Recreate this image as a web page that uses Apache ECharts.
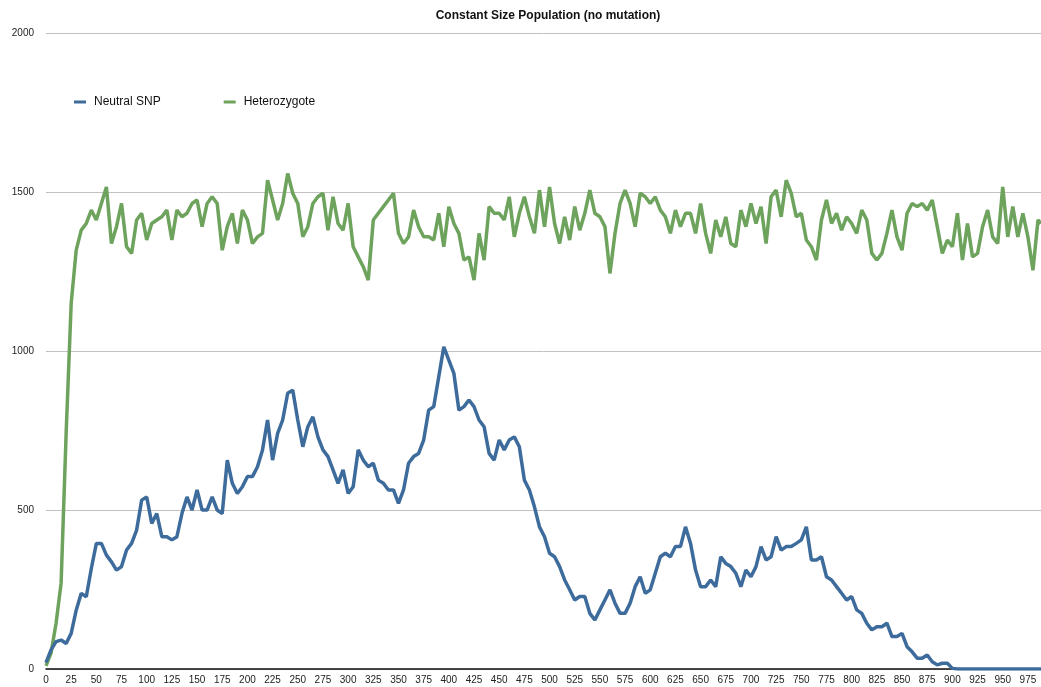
<!DOCTYPE html>
<html lang="en">
<head>
  <meta charset="UTF-8">
  <title>Constant Size Population</title>
  <style>
    * { padding: 0; margin: 0; }
    #charts { width: 1041px; height: 687px; background: #fff; }
  </style>
</head>
<body>
  <div id="charts"></div>
</body>
<script src="https://cdn.jsdelivr.net/npm/echarts@6/dist/echarts.min.js"></script>
<script>
  // generation of each sample (read every 5 generations)
  var generations = [
    0, 5, 10, 15, 20, 25, 30, 35, 40, 45, 50, 55, 60, 65, 70, 75, 80, 85, 90, 95,
    100, 105, 110, 115, 120, 125, 130, 135, 140, 145, 150, 155, 160, 165, 170, 175, 180, 185, 190, 195,
    200, 205, 210, 215, 220, 225, 230, 235, 240, 245, 250, 255, 260, 265, 270, 275, 280, 285, 290, 295,
    300, 305, 310, 315, 320, 325, 330, 335, 340, 345, 350, 355, 360, 365, 370, 375, 380, 385, 390, 395,
    400, 405, 410, 415, 420, 425, 430, 435, 440, 445, 450, 455, 460, 465, 470, 475, 480, 485, 490, 495,
    500, 505, 510, 515, 520, 525, 530, 535, 540, 545, 550, 555, 560, 565, 570, 575, 580, 585, 590, 595,
    600, 605, 610, 615, 620, 625, 630, 635, 640, 645, 650, 655, 660, 665, 670, 675, 680, 685, 690, 695,
    700, 705, 710, 715, 720, 725, 730, 735, 740, 745, 750, 755, 760, 765, 770, 775, 780, 785, 790, 795,
    800, 805, 810, 815, 820, 825, 830, 835, 840, 845, 850, 855, 860, 865, 870, 875, 880, 885, 890, 895,
    900, 905, 910, 915, 920, 925, 930, 935, 940, 945, 950, 955, 960, 965, 970, 975, 980, 985, 988
  ]
  var neutralSnp = [
    20, 60, 86, 91, 80, 112, 185, 238, 227, 316, 395, 395, 358, 337, 311, 322, 374, 395, 437, 531,
    541, 458, 489, 416, 416, 406, 416, 489, 541, 500, 563, 500, 500, 541, 500, 489, 657, 584, 552, 573,
    605, 605, 636, 689, 783, 657, 741, 783, 867, 877, 783, 699, 762, 793, 730, 689, 668, 626, 584, 626,
    552, 573, 689, 657, 636, 647, 594, 584, 563, 563, 521, 563, 647, 668, 678, 720, 814, 825, 919, 1013,
    971, 930, 814, 825, 846, 825, 783, 762, 678, 657, 720, 689, 720, 730, 699, 594, 563, 510, 447, 416,
    364, 353, 322, 280, 249, 217, 228, 228, 175, 154, 186, 217, 249, 207, 175, 175, 207, 259, 290, 238,
    249, 301, 353, 364, 353, 385, 385, 447, 395, 311, 259, 259, 280, 259, 353, 332, 322, 301, 259, 311,
    290, 322, 385, 343, 353, 416, 374, 385, 385, 395, 406, 447, 343, 343, 353, 290, 280, 259, 238, 217,
    228, 186, 175, 144, 123, 133, 133, 144, 102, 102, 112, 70, 54, 34, 34, 44, 23, 13, 18, 18,
    2, 0, 0, 0, 0, 0, 0, 0, 0, 0, 0, 0, 0, 0, 0, 0, 0, 0, 0
  ]
  var heterozygote = [
    10, 50, 144, 270, 741, 1150, 1317, 1380, 1401, 1443, 1412, 1464, 1516, 1338, 1391, 1464, 1328, 1307, 1412, 1433,
    1349, 1401, 1412, 1422, 1443, 1349, 1443, 1422, 1433, 1464, 1475, 1391, 1464, 1485, 1464, 1317, 1391, 1433, 1338, 1443,
    1412, 1338, 1359, 1370, 1537, 1475, 1412, 1464, 1558, 1496, 1464, 1359, 1391, 1464, 1485, 1496, 1380, 1485, 1401, 1380,
    1464, 1328, 1296, 1265, 1223, 1412, 1433, 1454, 1475, 1496, 1370, 1338, 1359, 1443, 1391, 1359, 1359, 1349, 1433, 1328,
    1454, 1401, 1370, 1286, 1296, 1223, 1370, 1286, 1454, 1433, 1433, 1412, 1485, 1359, 1433, 1485, 1422, 1370, 1506, 1391,
    1516, 1401, 1338, 1422, 1349, 1454, 1380, 1433, 1506, 1433, 1422, 1391, 1244, 1370, 1464, 1506, 1464, 1391, 1496, 1485,
    1464, 1485, 1443, 1422, 1370, 1443, 1391, 1433, 1433, 1370, 1464, 1370, 1307, 1412, 1359, 1422, 1338, 1328, 1443, 1391,
    1464, 1401, 1454, 1338, 1485, 1506, 1422, 1537, 1496, 1422, 1433, 1349, 1328, 1286, 1412, 1475, 1401, 1433, 1380, 1422,
    1401, 1370, 1443, 1412, 1307, 1286, 1307, 1370, 1443, 1359, 1317, 1433, 1464, 1454, 1464, 1443, 1475, 1391, 1307, 1349,
    1328, 1433, 1286, 1401, 1296, 1307, 1391, 1443, 1359, 1338, 1516, 1359, 1454, 1359, 1433, 1359, 1254, 1412, 1401
  ]
  var seriesNames = ['Neutral SNP', 'Heterozygote']

  function pairs(values) {
    return generations.map(function (g, i) { return [g, values[i]] })
  }

  var myChart = echarts.init(document.getElementById('charts'))
  var option = {
    animation: false,
    color: ['#3d6b9b', '#6ea35d'],
    textStyle: { fontFamily: 'Liberation Sans, Arial, sans-serif' },
    title: {
      text: 'Constant Size Population (no mutation)',
      left: 543,
      textAlign: 'center',
      top: 5,
      textStyle: { fontSize: 12, fontWeight: 'bold', color: '#111' }
    },
    legend: {
      data: seriesNames,
      left: 69,
      top: 91,
      icon: 'rect',
      itemWidth: 12,
      itemHeight: 3,
      itemGap: 63,
      textStyle: { fontSize: 12, color: '#111', padding: [0, 0, 0, 3] }
    },
    grid: { left: 46, right: 0, top: 33, bottom: 18 },
    xAxis: {
      type: 'value',
      min: 0,
      max: 988,
      interval: 25,
      axisLine: { lineStyle: { color: '#111', width: 1.5 } },
      axisTick: { show: false },
      splitLine: { show: false },
      axisLabel: { fontSize: 10, color: '#222', margin: 6, showMaxLabel: false }
    },
    yAxis: {
      type: 'value',
      min: 0,
      max: 2000,
      interval: 500,
      axisLine: { show: false },
      axisTick: { show: false },
      splitLine: { lineStyle: { color: '#c2c2c2', width: 1 } },
      axisLabel: {
        fontSize: 10, color: '#222', margin: 12,
        formatter: function (v) { return String(v) }
      }
    },
    series: [
      {
        name: seriesNames[0],
        type: 'line',
        symbol: 'none',
        z: 3,
        lineStyle: { width: 3.5 },
        data: pairs(neutralSnp)
      },
      {
        name: seriesNames[1],
        type: 'line',
        symbol: 'none',
        z: 2,
        lineStyle: { width: 3.5 },
        data: pairs(heterozygote)
      }
    ]
  }
  myChart.setOption(option)
</script>
</html>
